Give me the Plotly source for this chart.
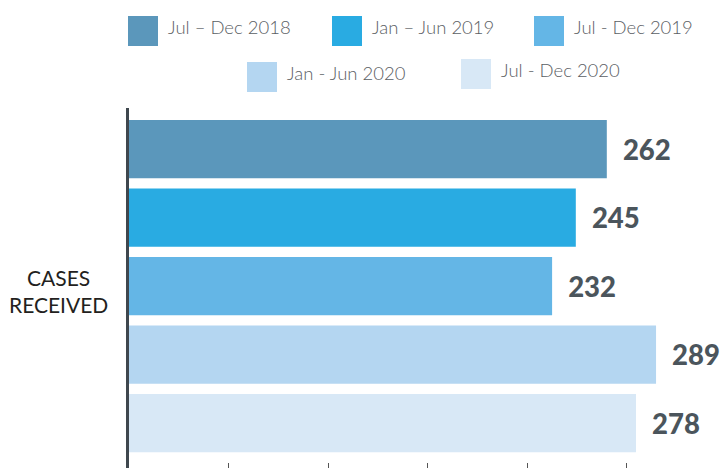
import plotly.graph_objects as go

# Cases received per half-year period
category = "CASES RECEIVED"
periods = ["Jul – Dec 2018", "Jan – Jun 2019", "Jul - Dec 2019", "Jan - Jun 2020", "Jul - Dec 2020"]
cases = [262, 245, 232, 289, 278]
colors = ["#5b97bb", "#29abe2", "#64b6e6", "#b4d6f1", "#d8e8f6"]

W, H = 723, 468
ML, MR, MT, MB = 129, 0, 108, 0

fig = go.Figure()
for name, val, col in zip(periods, cases, colors):
    fig.add_trace(go.Bar(
        x=[val], y=[category], name=name, orientation="h",
        marker=dict(color=col, line=dict(width=0)),
        texttemplate="\u00a0\u00a0%{x}", textposition="outside",
        textfont=dict(family="Lato", size=27.5, color="#4b555c", weight=900),
        constraintext="none", cliponaxis=False, showlegend=False,
        hoverinfo="skip",
    ))


def px_to_paper_x(px):
    return (px - ML) / (W - ML - MR)


def px_to_paper_y(py):
    return 1 - (py - MT) / (H - MT - MB)


# Legend drawn as swatches and labels above the plot
legend_items = [
    (128, 16, 166), (332, 16, 370), (534, 16, 572),
    (247, 62, 285), (461, 59, 499),
]
shapes = []
annotations = []
for (sx, sy, tx), name, col in zip(legend_items, periods, colors):
    shapes.append(dict(
        type="rect", xref="paper", yref="paper",
        x0=px_to_paper_x(sx), x1=px_to_paper_x(sx + 30),
        y0=px_to_paper_y(sy), y1=px_to_paper_y(sy + 30),
        fillcolor=col, line=dict(width=0), layer="above",
    ))
    annotations.append(dict(
        text=name, xref="paper", yref="paper",
        x=px_to_paper_x(tx), y=px_to_paper_y(sy + 11),
        xanchor="left", yanchor="middle", showarrow=False,
        font=dict(family="Lato", size=18.5, color="#5b6064", weight=300),
    ))

# Category label on the left
annotations.append(dict(
    text="CASES<br>RECEIVED", xref="paper", yref="paper",
    x=px_to_paper_x(58), y=px_to_paper_y(291),
    xanchor="center", yanchor="middle", align="center", showarrow=False,
    font=dict(family="Lato", size=21, color="#231f20"),
))

k = 1.8237  # pixels per case
fig.update_layout(
    width=W, height=H,
    margin=dict(l=ML, r=MR, t=MT, b=MB, pad=0),
    paper_bgcolor="white", plot_bgcolor="white",
    barmode="group", bargap=0.0, bargroupgap=0.15,
    shapes=shapes, annotations=annotations,
    xaxis=dict(
        range=[0, (W - ML - MR) / k], showgrid=False, zeroline=False,
        showline=False, showticklabels=False,
        ticks="inside", ticklen=5, tickwidth=1, tickcolor="#555",
        tick0=0, dtick=54.6,
    ),
    yaxis=dict(
        range=[0.5307, -0.5204], showgrid=False, zeroline=False,
        showline=True, linewidth=3, linecolor="#3f474e",
        showticklabels=False, ticks="",
    ),
)

fig.write_html("out.html")
